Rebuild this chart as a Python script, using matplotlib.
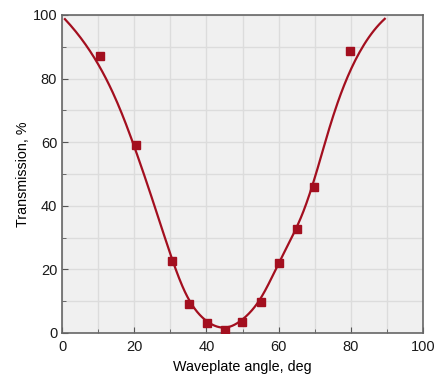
import numpy as np
import matplotlib.pyplot as plt
from matplotlib.ticker import MultipleLocator

plt.rcParams['font.family'] = ['Liberation Sans', 'DejaVu Sans']

# measured points
angle = np.array([10.4, 20.4, 30.4, 35.2, 40.2, 45.1, 49.8, 55.0, 60.0, 65.0, 69.8, 79.8])
trans = np.array([87.1, 59.1, 22.6, 9.1, 3.0, 0.9, 3.6, 9.8, 22.1, 32.8, 46.0, 88.8])
# ends of the drawn curve
curve_start = (0.8, 98.7)
curve_end = (89.4, 98.8)

# smooth curve: clamped cubic B-spline over the points
def bspline(px, py, k=3, num=400):
    n = len(px)
    knots = np.r_[np.zeros(k), np.arange(n - k + 1), np.full(k, n - k)].astype(float)
    u = np.linspace(0, n - k, num)
    u[-1] -= 1e-9
    N = np.zeros((num, len(knots) - 1))
    for i in range(len(knots) - 1):
        N[:, i] = (u >= knots[i]) & (u < knots[i + 1])
    for d in range(1, k + 1):
        Nn = np.zeros((num, len(knots) - 1 - d))
        for i in range(len(knots) - 1 - d):
            a = knots[i + d] - knots[i]
            b = knots[i + d + 1] - knots[i + 1]
            t1 = (u - knots[i]) / a * N[:, i] if a > 0 else 0
            t2 = (knots[i + d + 1] - u) / b * N[:, i + 1] if b > 0 else 0
            Nn[:, i] = t1 + t2
        N = Nn
    return N @ px, N @ py

cx = np.r_[curve_start[0], angle, curve_end[0]]
cy = np.r_[curve_start[1], trans, curve_end[1]]
sx, sy = bspline(cx, cy)

col = "#a30f1f"
fig, ax = plt.subplots(figsize=(4.38, 3.75), dpi=100)
fig.subplots_adjust(left=0.1416, right=0.9658, top=0.96, bottom=0.112)
ax.set_facecolor("#f0f0f0")
ax.plot(sx, sy, color=col, lw=1.6, zorder=3)
ax.plot(angle, trans, "s", color=col, ms=5.2, zorder=4)

ax.set_xlim(0, 100)
ax.set_ylim(0, 100)
ax.xaxis.set_major_locator(MultipleLocator(20))
ax.xaxis.set_minor_locator(MultipleLocator(10))
ax.yaxis.set_major_locator(MultipleLocator(20))
ax.yaxis.set_minor_locator(MultipleLocator(10))
ax.grid(which="both", color="#dcdcdc", lw=1.0, zorder=0)
ax.set_axisbelow(True)
ax.tick_params(which="both", direction="in", colors="#555555", labelcolor="#1a1a1a", labelsize=10.5)
ax.tick_params(which="major", length=4)
ax.tick_params(axis="x", which="major", pad=5)
ax.tick_params(which="minor", length=3)
for s in ax.spines.values():
    s.set_color("#666666")
    s.set_linewidth(1.2)
ax.set_xlabel("Waveplate angle, deg", fontsize=10.3, labelpad=4)
ax.set_ylabel("Transmission, %", fontsize=10.3, labelpad=2)
plt.savefig("out.png", dpi=100)
